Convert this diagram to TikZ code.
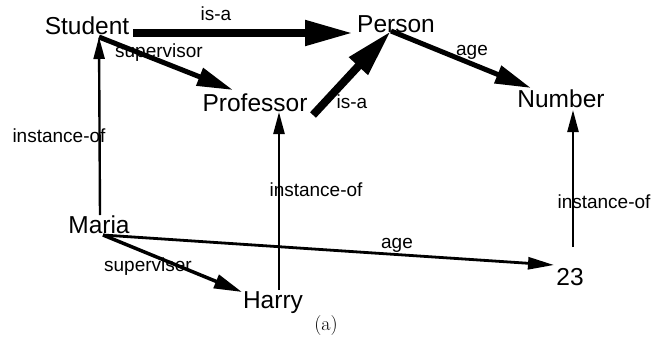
\documentclass[tikz,border=0pt]{standalone}
\usepackage{fontspec}
\newfontfamily\diafont{Liberation Sans}
\usetikzlibrary{arrows.meta}
\begin{document}
\begin{tikzpicture}[x=1pt,y=-1pt,
  term/.style={inner sep=0pt,anchor=base,font=\diafont\fontsize{24.5}{26}\selectfont},
  lbl/.style={inner sep=0pt,anchor=base,font=\diafont\fontsize{19}{21}\selectfont},
  isaarrow/.style={line width=8pt,-{Triangle[length=48pt,width=24pt]}},
  relarrow/.style={line width=5pt,-{Triangle[length=36pt,width=18pt]}},
  midarrow/.style={line width=3.5pt,-{Triangle[length=28pt,width=14pt]}},
  thinarrow/.style={line width=2.8pt,-{Triangle[length=26pt,width=12pt]}},
  instarrow/.style={line width=2.4pt,-{Triangle[length=22pt,width=11pt]}}]
\useasboundingbox (0,0) rectangle (653,343);
% terms
\node[term] (student) at (87,34) {Student};
\node[term] (person) at (396,32) {Person};
\node[term] (professor) at (255,111) {Professor};
\node[term] (number) at (561,107) {Number};
\node[term] (maria) at (99,233) {Maria};
\node[term] (harry) at (273,308) {Harry};
\node[term] (n23) at (570,285) {23};
% labels
\node[lbl] (l1) at (216,20) {is-a};
\node[lbl] (l2) at (159,57) {supervisor};
\node[lbl] (l3) at (352,108) {is-a};
\node[lbl] (l4) at (472,55) {age};
\node[lbl] (l5) at (59,142) {instance-of};
\node[lbl] (l6) at (316,196) {instance-of};
\node[lbl] (l7) at (604,208) {instance-of};
\node[lbl] (l8) at (397,248) {age};
\node[lbl] (l9) at (148,271) {superviser};
\node[inner sep=0pt,font=\fontsize{20}{22}\selectfont] (cap) at (326,326) {(a)};
% attachment points
\coordinate (stuR) at (133,33);
\coordinate (stuJ) at (99,37);
\coordinate (perL) at (353,33);
\coordinate (perJ) at (391,31);
\coordinate (proL) at (233,90);
\coordinate (proR) at (313,115);
\coordinate (proB) at (279,112);
\coordinate (numT) at (531,88);
\coordinate (numB) at (573,110);
\coordinate (marT) at (100,215);
\coordinate (marJ) at (103,235);
\coordinate (harT) at (279,290);
\coordinate (harL) at (242,292);
\coordinate (nT) at (573,247);
\coordinate (nL) at (554,265);
% connectors
\draw[isaarrow] (stuR) -- (perL);
\draw[relarrow] (stuJ) -- (proL);
\draw[isaarrow] (proR) -- (perJ);
\draw[relarrow] (perJ) -- (numT);
\draw[instarrow] (marT) -- (stuJ);
\draw[instarrow] (harT) -- (proB);
\draw[instarrow] (nT) -- (numB);
\draw[thinarrow] (marJ) -- (nL);
\draw[midarrow] (marJ) -- (harL);
\end{tikzpicture}
\end{document}
